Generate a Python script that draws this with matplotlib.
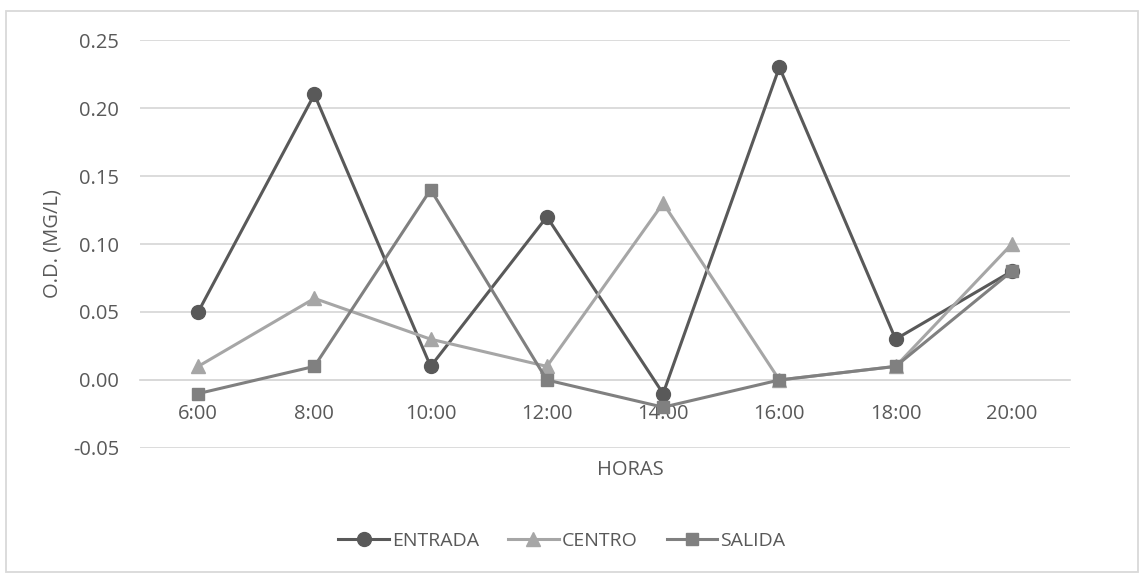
import matplotlib.pyplot as plt

plt.rcParams['font.family'] = ['Open Sans', 'DejaVu Sans']

horas = ['6:00', '8:00', '10:00', '12:00', '14:00', '16:00', '18:00', '20:00']
entrada = [0.05, 0.21, 0.01, 0.12, -0.01, 0.23, 0.03, 0.08]
centro = [0.01, 0.06, 0.03, 0.01, 0.13, 0.00, 0.01, 0.10]
salida = [-0.01, 0.01, 0.14, 0.00, -0.02, 0.00, 0.01, 0.08]

txt = '#595959'
grid = '#d9d9d9'

fig = plt.figure(figsize=(11.44, 5.75), dpi=100)
ax = fig.add_axes([0.1224, 0.2209, 0.8129, 0.7095])

x = range(len(horas))
ax.plot(x, entrada, '-o', color='#595959', lw=2.2, ms=10, label='ENTRADA')
ax.plot(x, centro, '-^', color='#a6a6a6', lw=2.2, ms=10, label='CENTRO')
ax.plot(x, salida, '-s', color='#808080', lw=2.2, ms=9, label='SALIDA')

ax.set_xlim(-0.5, len(horas) - 0.5)
ax.set_ylim(-0.05, 0.25)
ax.set_yticks([-0.05, 0, 0.05, 0.10, 0.15, 0.20, 0.25])
ax.set_yticklabels(['-0.05', '0.00', '0.05', '0.10', '0.15', '0.20', '0.25'])
ax.set_xticks(list(x))
ax.set_xticklabels(horas)
ax.yaxis.grid(True, color=grid, lw=1.3)
ax.set_axisbelow(True)
for s in ['top', 'right', 'left']:
    ax.spines[s].set_visible(False)
ax.spines['bottom'].set_position(('data', 0))
ax.spines['bottom'].set_color(grid)
ax.spines['bottom'].set_linewidth(1.3)
ax.spines['bottom'].set_zorder(0.5)
ax.tick_params(length=0, labelsize=14.5, colors=txt)
ax.tick_params(axis='x', pad=17)
ax.tick_params(axis='y', pad=15)

ax.set_ylabel('O.D. (MG/L)', fontsize=14.5, color=txt, va='center')
ax.yaxis.set_label_coords(-0.0946, 0.5)
fig.text(0.5507, 0.182, 'HORAS', fontsize=14.5, color=txt, ha='center', va='center')

leg = fig.legend(loc='center', bbox_to_anchor=(0.491, 0.059), ncol=3, frameon=False,
                 fontsize=14, handlelength=2.6, columnspacing=1.5, handletextpad=0.15)
for t in leg.get_texts():
    t.set_color(txt)

fig.patches.append(plt.Rectangle((0.005, 0.005), 0.99, 0.976, transform=fig.transFigure,
                                 fill=False, edgecolor=grid, lw=1.3))

fig.savefig('out.png', dpi=100)
